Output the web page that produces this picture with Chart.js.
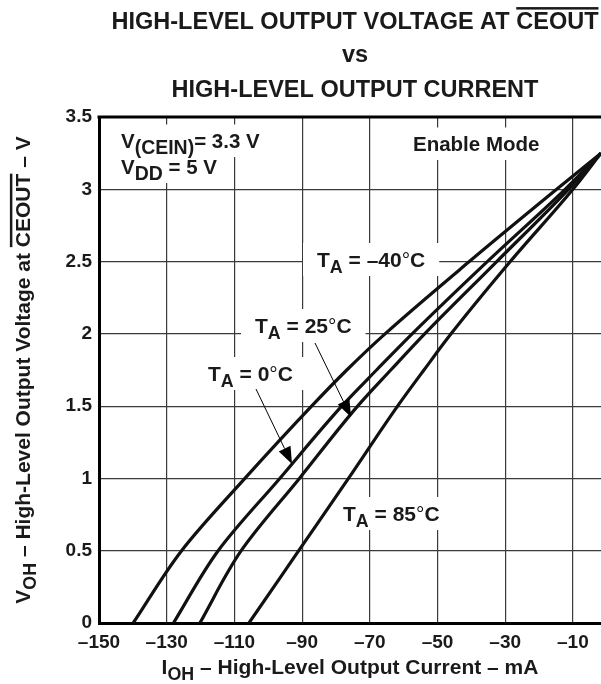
<!DOCTYPE html>
<html><head><meta charset="utf-8">
<script src="https://cdn.jsdelivr.net/npm/chart.js@4/dist/chart.umd.min.js"></script>
<style>html,body{margin:0;padding:0;background:#fff;overflow:hidden}#wrap{width:601px;height:684px;position:relative}</style>
</head><body><div id="wrap"><canvas id="c" width="601" height="684"></canvas></div>
<script>
// ---- data ----
const voltageLevels   = [0, 0.5, 1.0, 1.5, 1.75, 2.0, 2.5, 3.0, 3.25];          // V_OH (V)
const currentTAm40    = [-139.9, -125.6, -106.9, -87.2, -76.8, -65.5, -40.6, -14.8, -1.7]; // I_OH (mA) at -40°C
const currentTA0      = [-128.0, -114.8, -96.6, -78.3, -68.0, -57.5, -35.3, -12.3, -1.7];  // 0°C
const currentTA25     = [-120.2, -108.0, -90.8, -73.6, -63.8, -53.8, -32.5, -11.3, -1.7];  // 25°C
const currentTA85     = [-105.7, -91.0, -76.3, -61.8, -54.0, -46.0, -28.5, -10.0, -1.7];   // 85°C
const seriesNames     = ['TA = -40°C', 'TA = 0°C', 'TA = 25°C', 'TA = 85°C'];
const xTickValues     = [-150, -130, -110, -90, -70, -50, -30, -10];
const xTickLabels     = ['\u2013150', '\u2013130', '\u2013110', '\u201390', '\u201370', '\u201350', '\u201330', '\u201310'];
const yTickValues     = [0, 0.5, 1, 1.5, 2, 2.5, 3, 3.5];
const yTickLabels     = ['0', '0.5', '1', '1.5', '2', '2.5', '3', '3.5'];

const FONT = '"Liberation Sans", Arial, Helvetica, sans-serif';
const INK = '#1a1a1a';

function pts(cur) { return cur.map((c, i) => ({ x: c, y: voltageLevels[i] })); }

function richWidth(ctx, parts, size) {
  let w = 0;
  parts.forEach(p => {
    const s = p.sub ? size * (p.subScale || 0.85) : size;
    ctx.font = `bold ${s}px ${FONT}`;
    p._w = ctx.measureText(p.t).width; w += p._w;
  });
  return w;
}
function drawRich(ctx, parts, x, y, size, align) {
  const total = richWidth(ctx, parts, size);
  let cx = align === 'center' ? x - total / 2 : x;
  ctx.textAlign = 'left'; ctx.textBaseline = 'alphabetic'; ctx.fillStyle = INK;
  parts.forEach(p => {
    const s = p.sub ? size * (p.subScale || 0.85) : size;
    ctx.font = `${p.normal ? '' : 'bold '}${s}px ${FONT}`;
    const dy = p.sub ? size * 0.3 : 0;
    ctx.fillText(p.t, cx, y + dy);
    if (p.over) ctx.fillRect(cx, y - size * 0.72 - 5, p._w, 2.5);
    cx += p._w;
  });
  return total;
}
function tempParts(t) {
  return [{ t: 'T' }, { t: 'A', sub: true }, { t: ' = ' + t }, { t: '\u00B0', normal: true }, { t: 'C' }];
}

const labels = [
  { parts: [{ t: 'V' }, { t: '(CEIN)', sub: true, subScale: 0.95 }, { t: '= 3.3 V' }], x: 121, y: 148, size: 20.5 },
  { parts: [{ t: 'V' }, { t: 'DD', sub: true, subScale: 0.95 }, { t: ' = 5 V' }], x: 121, y: 174, size: 20.5 },
  { parts: [{ t: 'Enable Mode' }], x: 413, y: 151, size: 20.5 },
  { parts: tempParts('\u201340'), x: 317, y: 267, size: 21 },
  { parts: tempParts('25'), x: 255, y: 333, size: 21 },
  { parts: tempParts('0'), x: 208, y: 381, size: 21 },
  { parts: tempParts('85'), x: 343, y: 521, size: 21 },
];
const arrows = [
  { from: [256, 389], to: [292, 464] },
  { from: [315, 343], to: [351, 417] },
];

const decor = {
  id: 'decor',
  beforeDatasetsDraw(chart) {
    const ctx = chart.ctx;
    ctx.save();
    labels.forEach(l => {
      const w = richWidth(ctx, l.parts.map(p => Object.assign({}, p)), l.size);
      ctx.fillStyle = '#fff';
      ctx.fillRect(l.x - 14, l.y - l.size - 3, w + 28, l.size + 12);
    });
    labels.forEach(l => drawRich(ctx, l.parts, l.x, l.y, l.size, 'left'));
    ctx.restore();
  },
  afterDatasetsDraw(chart) {
    const ctx = chart.ctx, a = chart.chartArea;
    ctx.save();
    ctx.strokeStyle = '#000'; ctx.lineWidth = 3;
    ctx.beginPath(); ctx.moveTo(a.left - 1.5, a.top); ctx.lineTo(a.right, a.top); ctx.stroke();
    arrows.forEach(ar => {
      const [x0, y0] = ar.from, [x1, y1] = ar.to;
      const ang = Math.atan2(y1 - y0, x1 - x0), L = 17, W = 6.5;
      const bx = x1 - L * Math.cos(ang), by = y1 - L * Math.sin(ang);
      ctx.strokeStyle = '#000'; ctx.lineWidth = 1;
      ctx.beginPath(); ctx.moveTo(x0, y0); ctx.lineTo(bx, by); ctx.stroke();
      ctx.fillStyle = '#000';
      ctx.beginPath(); ctx.moveTo(x1, y1);
      ctx.lineTo(bx + W * Math.sin(ang), by - W * Math.cos(ang));
      ctx.lineTo(bx - W * Math.sin(ang), by + W * Math.cos(ang));
      ctx.closePath(); ctx.fill();
    });
    ctx.restore();
  },
  afterDraw(chart) {
    const ctx = chart.ctx;
    ctx.save();
    const cx = 355;
    drawRich(ctx, [{ t: 'HIGH-LEVEL OUTPUT VOLTAGE AT ' }, { t: 'CEOUT', over: true }], cx, 29, 23.5, 'center');
    drawRich(ctx, [{ t: 'vs' }], cx, 62, 23.5, 'center');
    drawRich(ctx, [{ t: 'HIGH-LEVEL OUTPUT CURRENT' }], cx, 97, 23.5, 'center');
    drawRich(ctx, [{ t: 'I' }, { t: 'OH', sub: true }, { t: ' \u2013 High-Level Output Current \u2013 mA' }], 350, 674, 21, 'center');
    ctx.translate(30, 370); ctx.rotate(-Math.PI / 2);
    drawRich(ctx, [{ t: 'V' }, { t: 'OH', sub: true }, { t: ' \u2013 High-Level Output Voltage at ' }, { t: 'CEOUT', over: true }, { t: ' \u2013 V' }], 0, 0, 21, 'center');
    ctx.restore();
  }
};

const ds = [currentTAm40, currentTA0, currentTA25, currentTA85].map((c, i) => ({
  label: seriesNames[i], data: pts(c), showLine: true, borderColor: '#111', borderWidth: 3.2,
  pointRadius: 0, fill: false, cubicInterpolationMode: 'monotone', indexAxis: 'y'
}));

new Chart(document.getElementById('c'), {
  type: 'scatter',
  data: { datasets: ds },
  options: {
    responsive: false, animation: false, devicePixelRatio: 1,
    layout: { padding: { left: 0, right: 0, top: 117, bottom: 0 } },
    plugins: { legend: { display: false }, tooltip: { enabled: false }, title: { display: false } },
    scales: {
      x: {
        type: 'linear', min: -150, max: -1.7,
        afterBuildTicks: s => { s.ticks = xTickValues.map(v => ({ value: v })); },
        afterFit: s => { s.height = 61; },
        ticks: { color: INK, font: { family: FONT, size: 19, weight: 'bold' }, padding: 8, maxRotation: 0,
          callback: v => { const i = xTickValues.indexOf(v); return i >= 0 ? xTickLabels[i] : ''; } },
        grid: { color: '#3a3a3a', lineWidth: 1.2, drawTicks: false },
        border: { color: '#000', width: 3 }
      },
      y: {
        type: 'linear', min: 0, max: 3.5,
        afterBuildTicks: s => { s.ticks = yTickValues.map(v => ({ value: v })); },
        afterFit: s => { s.width = 99; },
        ticks: { color: INK, font: { family: FONT, size: 19, weight: 'bold' }, padding: 7,
          callback: v => { const i = yTickValues.indexOf(v); return i >= 0 ? yTickLabels[i] : ''; } },
        grid: { color: '#3a3a3a', lineWidth: 1.2, drawTicks: false },
        border: { color: '#000', width: 3 }
      }
    }
  },
  plugins: [decor]
});
</script></body></html>
